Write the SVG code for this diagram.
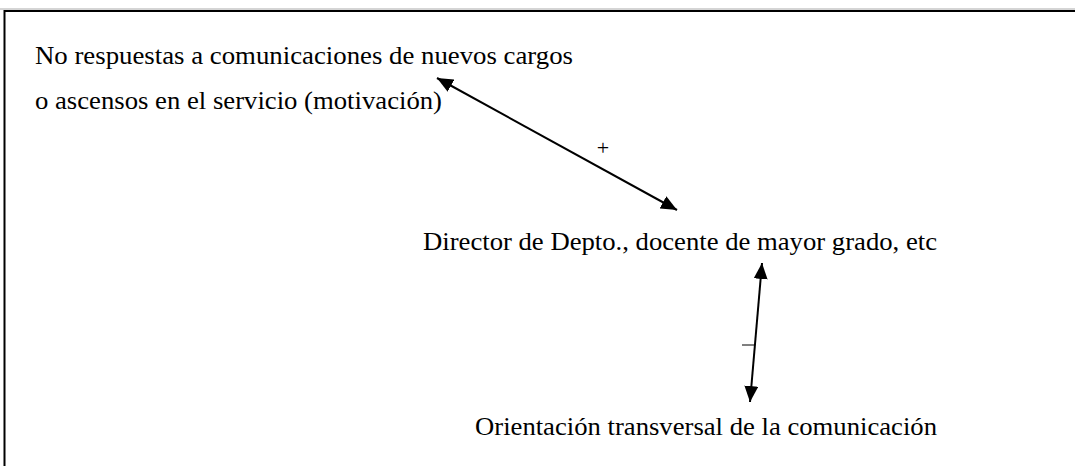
<svg xmlns="http://www.w3.org/2000/svg" width="1075" height="466" viewBox="0 0 1075 466">
<style>
text{font-family:"Liberation Serif","Times New Roman",serif;font-size:26px;fill:#000}
.c{stroke:#000;stroke-width:2;fill:none}
</style>
<defs>
<marker id="ah" viewBox="0 0 16 14" refX="16" refY="7" markerWidth="16" markerHeight="14" markerUnits="userSpaceOnUse" orient="auto-start-reverse">
<path d="M0,0 L16,7 L0,14 z" fill="#000"/>
</marker>
</defs>
<rect width="1075" height="466" fill="#fff"/>
<line x1="0" y1="9" x2="1075" y2="9" stroke="#aaa" stroke-width="1"/>
<path d="M4.5,466 V11 H1075" stroke="#000" stroke-width="2" fill="none"/>
<g id="node-motivacion">
<text x="35" y="64" textLength="538" lengthAdjust="spacingAndGlyphs">No respuestas a comunicaciones de nuevos cargos</text>
<text x="35" y="109" textLength="407" lengthAdjust="spacingAndGlyphs">o ascensos en el servicio (motivación)</text>
</g>
<g id="node-director">
<text x="423" y="250" textLength="514" lengthAdjust="spacingAndGlyphs">Director de Depto., docente de mayor grado, etc</text>
</g>
<g id="node-orientacion">
<text x="475" y="435" textLength="462" lengthAdjust="spacingAndGlyphs">Orientación transversal de la comunicación</text>
</g>
<g id="connectors">
<line class="c" x1="437" y1="78" x2="677" y2="210" marker-start="url(#ah)" marker-end="url(#ah)"/>
<text x="603" y="155" text-anchor="middle" style="font-size:22px">+</text>
<line class="c" x1="762" y1="263" x2="750" y2="402" marker-start="url(#ah)" marker-end="url(#ah)"/>
<line x1="742" y1="345" x2="755" y2="345" stroke="#000" stroke-width="1"/>
</g>
</svg>
